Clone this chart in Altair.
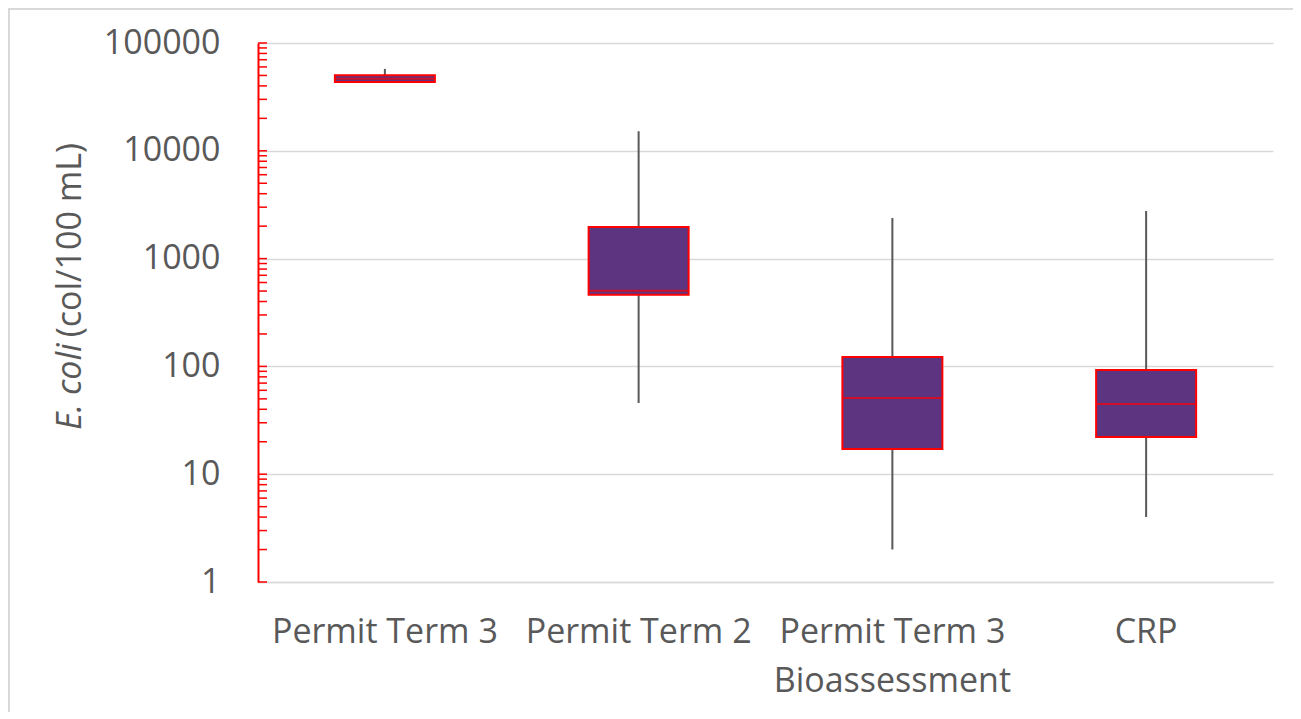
import altair as alt
import pandas as pd

# ---- data ----
categories = ["Permit Term 3", "Permit Term 2", "Permit Term 3\nBioassessment", "CRP"]
minimum = [43500, 45.7, 2.0, 4.0]
q1 = [43500, 462, 17.1, 22.1]
median = [46500, 504, 51, 44.8]
q3 = [50300, 1965, 122, 92.6]
maximum = [57500, 15200, 2380, 2760]

decades = [1, 10, 100, 1000, 10000, 100000]
minor_multipliers = [1, 2, 3, 4, 5, 6, 7, 8, 9]

df = pd.DataFrame({"cat": categories, "min": minimum, "q1": q1, "median": median,
                   "q3": q3, "max": maximum})
minor_ticks = pd.DataFrame({"v": [d * m for d in decades[:-1] for m in minor_multipliers] + [decades[-1]]})

FONT = "Open Sans"
GREY = "#595959"
W, H = 1015, 539

yscale = alt.Scale(type="log", domain=[1, 100000])
yaxis = alt.Axis(values=decades, format="d", ticks=False, domainColor="#ff0000",
                 domainWidth=2, gridColor="#d9d9d9", gridWidth=1.5,
                 labelFont=FONT, labelFontSize=34, labelColor=GREY, labelPadding=38)
xaxis = alt.Axis(labelAngle=0, ticks=False, grid=False, domainColor="#d9d9d9",
                 domainWidth=1.5, labelFont=FONT, labelFontSize=34, labelColor=GREY,
                 labelPadding=33, labelLineHeight=49, labelLimit=0,
                 labelExpr="split(datum.label, '\\n')")
xscale = alt.Scale(paddingInner=0, paddingOuter=0)


def X():
    return alt.X("cat:N", sort=categories, title=None, scale=xscale, axis=xaxis)


def Y(field):
    return alt.Y(field, scale=yscale, title=None, axis=yaxis)


border = alt.Chart(pd.DataFrame({"a": [0]})).mark_rect(
    fillOpacity=0, stroke="#d9d9d9", strokeWidth=2).encode(
    x=alt.value(-249), x2=alt.value(1100), y=alt.value(-34), y2=alt.value(720))

whisker = alt.Chart(df).mark_rule(color=GREY, strokeWidth=2).encode(
    x=X(), y=Y("min:Q"), y2="max:Q")

box = alt.Chart(df).mark_bar(size=100, color="#5c3480", stroke="#ff0000", strokeWidth=2).encode(
    x=X(), y=Y("q1:Q"), y2="q3:Q")

med = alt.Chart(df).mark_tick(color="#ff0000", size=100, thickness=2).encode(
    x=X(), y=Y("median:Q"))

minor = alt.Chart(minor_ticks).mark_rule(color="#ff0000", strokeWidth=1.5).encode(
    x=alt.value(0), x2=alt.value(9), y=Y("v:Q"))

title_a = alt.Chart(pd.DataFrame({"t": ["E. coli"]})).mark_text(
    angle=270, align="left", baseline="middle", font=FONT, fontSize=34, fontStyle="italic",
    color=GREY).encode(text="t:N", x=alt.value(-187), y=alt.value(387))
title_b = alt.Chart(pd.DataFrame({"t": ["(col/100 mL)"]})).mark_text(
    angle=270, align="right", baseline="middle", font=FONT, fontSize=34,
    color=GREY).encode(text="t:N", x=alt.value(-187), y=alt.value(100))

chart = alt.layer(border, whisker, box, med, minor, title_a, title_b).properties(
    width=W, height=H,
    autosize=alt.AutoSizeParams(type="none"),
    padding={"left": 250, "top": 35, "right": 20, "bottom": 130},
).configure_view(stroke=None)

chart.save("out.html", embed_options={"renderer": "svg", "actions": False})
